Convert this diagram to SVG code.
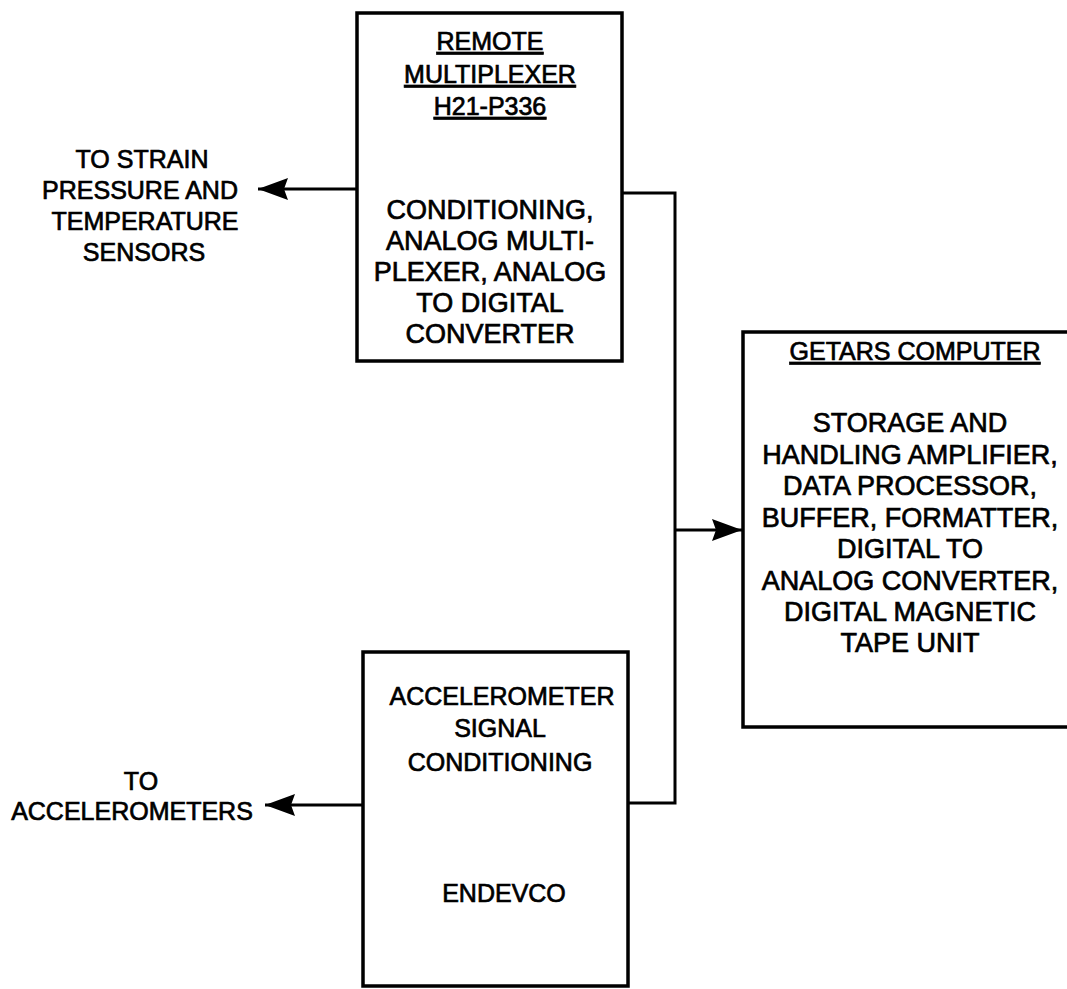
<svg xmlns="http://www.w3.org/2000/svg" width="1067" height="989" viewBox="0 0 1067 989">
<style>
.box{fill:none;stroke:#000;stroke-width:3.5}
.wire{fill:none;stroke:#000;stroke-width:3}
text{font-family:"Liberation Sans",Arial,sans-serif;fill:#000;stroke:#000;stroke-width:0.7;text-anchor:middle}
.t{font-size:25px}
.b{font-size:27px}
.u{text-decoration:underline}
</style>
<defs>
<marker id="ah" viewBox="0 0 30 24" refX="30" refY="12" markerWidth="30" markerHeight="24" markerUnits="userSpaceOnUse" orient="auto">
<path d="M0,1 L30,12 L0,23 L4,12 z" fill="#000"/>
</marker>
</defs>
<rect width="1067" height="989" fill="#fff"/>
<g id="remote-multiplexer">
<rect class="box" x="357" y="13" width="265" height="348"/>
<text class="t u" x="490" y="50">REMOTE</text>
<text class="t u" x="490" y="83">MULTIPLEXER</text>
<text class="t u" x="490" y="115">H21-P336</text>
<text class="b" x="490" y="219">CONDITIONING,</text>
<text class="b" x="490" y="250">ANALOG MULTI-</text>
<text class="b" x="490" y="281">PLEXER, ANALOG</text>
<text class="b" x="490" y="312">TO DIGITAL</text>
<text class="b" x="490" y="343">CONVERTER</text>
</g>
<g id="getars-computer">
<rect class="box" x="743" y="332" width="340" height="395"/>
<text class="t u" x="915" y="360">GETARS COMPUTER</text>
<text class="b" x="910" y="432">STORAGE AND</text>
<text class="b" x="910" y="464">HANDLING AMPLIFIER,</text>
<text class="b" x="910" y="495">DATA PROCESSOR,</text>
<text class="b" x="910" y="527">BUFFER,  FORMATTER,</text>
<text class="b" x="910" y="558">DIGITAL TO</text>
<text class="b" x="910" y="590">ANALOG CONVERTER,</text>
<text class="b" x="910" y="621">DIGITAL MAGNETIC</text>
<text class="b" x="910" y="652">TAPE UNIT</text>
</g>
<g id="accelerometer-conditioning">
<rect class="box" x="363" y="652" width="265" height="334"/>
<text class="t" x="502" y="705">ACCELEROMETER</text>
<text class="t" x="500" y="737">SIGNAL</text>
<text class="t" x="500" y="771">CONDITIONING</text>
<text class="t" x="504" y="902">ENDEVCO</text>
</g>
<g id="label-sensors">
<text class="t" x="142" y="168">TO STRAIN</text>
<text class="t" x="140" y="199">PRESSURE AND</text>
<text class="t" x="145" y="230">TEMPERATURE</text>
<text class="t" x="144" y="261">SENSORS</text>
</g>
<g id="label-accelerometers">
<text class="t" x="141" y="790">TO</text>
<text class="t" x="132" y="820">ACCELEROMETERS</text>
</g>
<g id="connectors">
<line class="wire" x1="357" y1="189" x2="258" y2="189" marker-end="url(#ah)"/>
<line class="wire" x1="363" y1="805" x2="265" y2="805" marker-end="url(#ah)"/>
<polyline class="wire" points="622,193 675,193 675,803 628,803"/>
<line class="wire" x1="675" y1="530" x2="742" y2="530" marker-end="url(#ah)"/>
</g>
</svg>
